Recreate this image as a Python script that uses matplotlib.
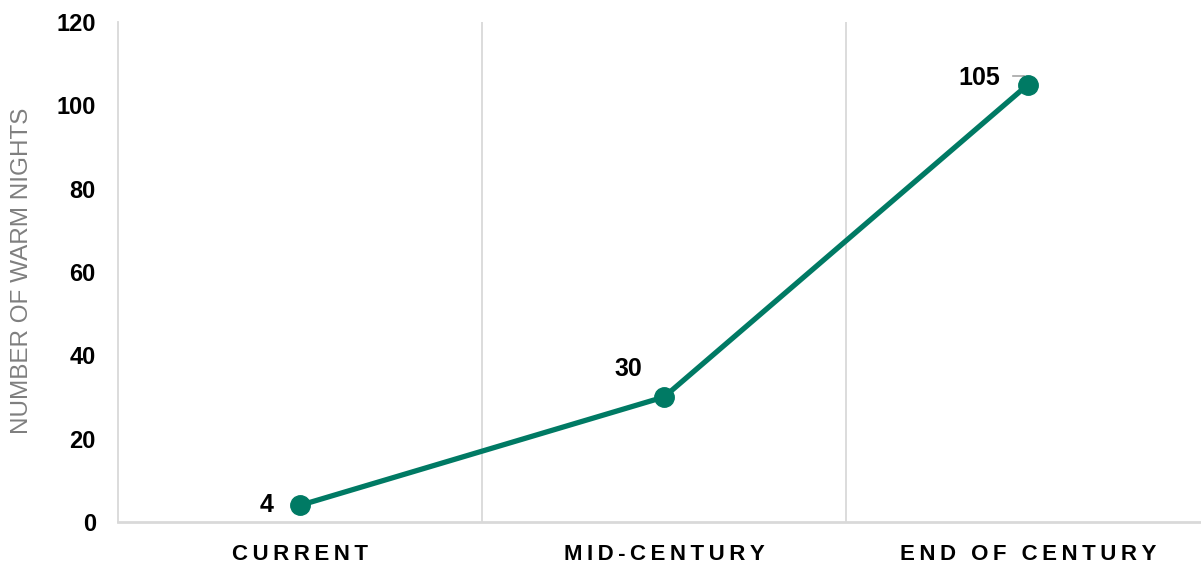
import matplotlib.pyplot as plt

categories = ["CURRENT", "MID-CENTURY", "END OF CENTURY"]
warm_nights = [4, 30, 105]
y_ticks = [0, 20, 40, 60, 80, 100, 120]

teal = "#007A64"
grid_col = "#D9D9D9"

plt.rcParams['font.family'] = ['Liberation Sans', 'DejaVu Sans']

fig = plt.figure(figsize=(12.01, 5.64), dpi=100)
ax = fig.add_axes([118 / 1201, 42 / 564, 1 - 118 / 1201, 500 / 564])

x = list(range(len(categories)))
ax.plot(x, warm_nights, color=teal, lw=3.8, marker='o', markersize=14,
        solid_capstyle='round', zorder=3)

ax.set_xlim(-0.5, 2.475)
ax.set_ylim(0, 120)
ax.set_yticks(y_ticks)
ax.set_yticklabels([str(t) for t in y_ticks], fontsize=17, fontweight='bold')
ax.tick_params(axis='y', length=0, pad=16)

# category labels, letter-spaced
ax.set_xticks(x)
ax.set_xticklabels(["\u2009".join(c) for c in categories], fontsize=16,
                   fontweight='bold')
ax.tick_params(axis='x', length=0, pad=16)

# vertical separators between categories
for b in [0.5, 1.5]:
    ax.axvline(b, color=grid_col, lw=1.3, zorder=1)

for side in ['top', 'right', 'bottom']:
    ax.spines[side].set_visible(False)
ax.spines['left'].set_color(grid_col)
ax.spines['left'].set_linewidth(1.3)
ax.axhline(0, color=grid_col, lw=2, zorder=1, clip_on=False)

fig.text(22 / 1201, 1 - 271 / 564, "NUMBER OF WARM NIGHTS", fontsize=17.5,
         color="#7F7F7F", rotation=90, ha='center', va='center')

# data labels
ax.annotate(str(warm_nights[0]), (x[0], warm_nights[0]), xytext=(-24, 0),
            textcoords='offset points', ha='center', va='center',
            fontsize=18, fontweight='bold')
ax.annotate(str(warm_nights[1]), (x[1], warm_nights[1]), xytext=(-26, 20),
            textcoords='offset points', ha='center', va='center',
            fontsize=18, fontweight='bold')
ax.annotate(str(warm_nights[2]), (x[2], warm_nights[2]), xytext=(-35, 5),
            textcoords='offset points', ha='center', va='center',
            fontsize=18, fontweight='bold')
ax.plot([x[2] - 0.042, x[2] - 0.012], [107, 107], color="#A6A6A6", lw=1.2, zorder=2)
ax.plot([x[2] - 0.012, x[2]], [107, 105], color="#A6A6A6", lw=1.2, zorder=2)

fig.savefig("out.png", dpi=100)
